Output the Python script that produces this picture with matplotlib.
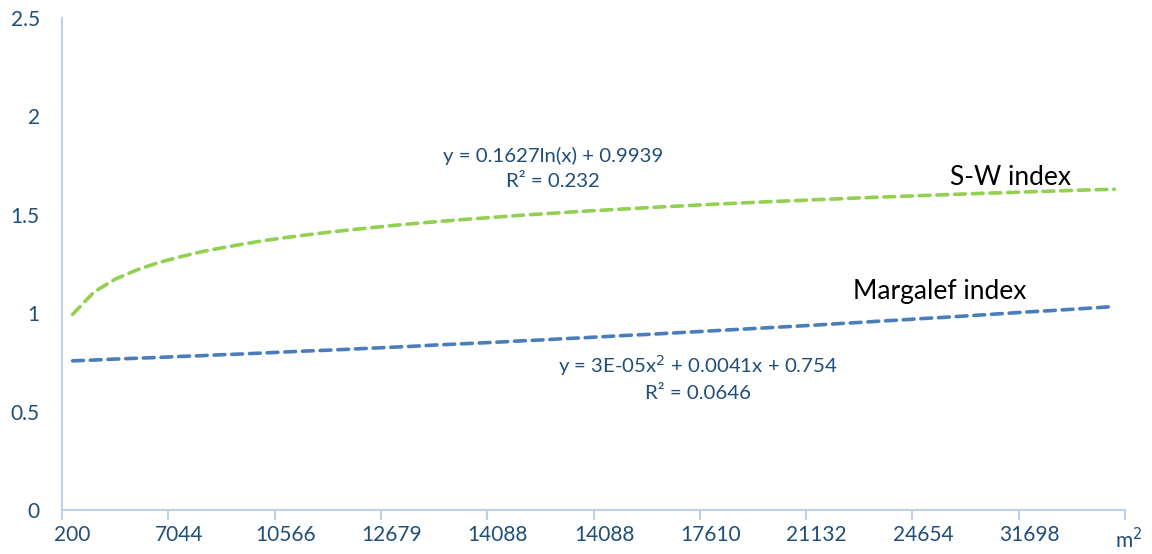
import matplotlib.pyplot as plt

# trendline values, one per category (50 categories)
sw_index = [0.994, 1.107, 1.173, 1.219, 1.256, 1.285, 1.311, 1.332, 1.351, 1.369,
            1.384, 1.398, 1.411, 1.423, 1.434, 1.445, 1.455, 1.464, 1.473, 1.481,
            1.489, 1.497, 1.504, 1.511, 1.518, 1.524, 1.530, 1.536, 1.542, 1.547,
            1.553, 1.558, 1.563, 1.568, 1.572, 1.577, 1.581, 1.586, 1.590, 1.594,
            1.598, 1.602, 1.606, 1.610, 1.613, 1.617, 1.620, 1.624, 1.627, 1.630]
margalef = [0.758, 0.762, 0.767, 0.771, 0.775, 0.780, 0.784, 0.789, 0.793, 0.798,
            0.803, 0.808, 0.812, 0.817, 0.822, 0.827, 0.832, 0.838, 0.843, 0.848,
            0.853, 0.859, 0.864, 0.870, 0.875, 0.881, 0.887, 0.892, 0.898, 0.904,
            0.910, 0.916, 0.922, 0.928, 0.934, 0.940, 0.947, 0.953, 0.960, 0.966,
            0.973, 0.979, 0.986, 0.993, 1.000, 1.007, 1.013, 1.020, 1.027, 1.034]
tick_labels = ['200', '7044', '10566', '12679', '14088', '14088',
               '17610', '21132', '24654', '31698']
label_every = 5

sw_eq = 'y = 0.1627ln(x) + 0.9939\nR² = 0.232'
mg_eq = 'y = 3E-05x$^{2}$ + 0.0041x + 0.754\nR² = 0.0646'

plt.rcParams['font.family'] = ['Lato', 'DejaVu Sans']
txt = '#1F4E79'
axc = '#BCD0E8'

fig = plt.figure(figsize=(11.52, 5.54), dpi=100)
ax = fig.add_axes([0.0538, 0.0794, 0.9228, 0.8881])

x = list(range(1, len(sw_index) + 1))
ax.plot(x, sw_index, color='#92D050', lw=2.6, dashes=(3.0, 1.9),
        dash_capstyle='round')
ax.plot(x, margalef, color='#4A7EBB', lw=2.6, dashes=(3.0, 1.9),
        dash_capstyle='round')

ax.set_xlim(0.5, len(x) + 0.5)
ax.set_ylim(0, 2.5)
ax.set_yticks([0, 0.5, 1, 1.5, 2, 2.5])
ax.set_yticklabels(['0', '0.5', '1', '1.5', '2', '2.5'])
ax.set_xticks(x[::label_every])
ax.set_xticklabels(tick_labels)
ax.set_xticks([i + 0.5 for i in range(0, len(x) + 1, label_every)], minor=True)

ax.tick_params(axis='y', length=0, pad=16, labelsize=15, labelcolor=txt)
ax.tick_params(axis='x', which='major', length=0, pad=11, labelsize=15,
               labelcolor=txt)
ax.tick_params(axis='x', which='minor', length=7, width=1.5, color=axc)

for s in ['top', 'right']:
    ax.spines[s].set_visible(False)
for s in ['left', 'bottom']:
    ax.spines[s].set_color(axc)
    ax.spines[s].set_linewidth(1.5)

ax.text(23.6, 1.735, sw_eq, ha='center', va='center', fontsize=14.7,
        color=txt, linespacing=1.55)
ax.text(30.4, 0.671, mg_eq, ha='center', va='center', fontsize=14.7,
        color=txt, linespacing=1.5)
ax.text(45.1, 1.69, 'S-W index', ha='center', va='center', fontsize=19,
        color='black')
ax.text(41.8, 1.108, 'Margalef index', ha='center', va='center', fontsize=19,
        color='black')
fig.text(1129 / 1152, 1 - 540 / 554, 'm$^{2}$', ha='center', va='center',
         fontsize=15, color=txt)

fig.savefig('out.png', dpi=100)
